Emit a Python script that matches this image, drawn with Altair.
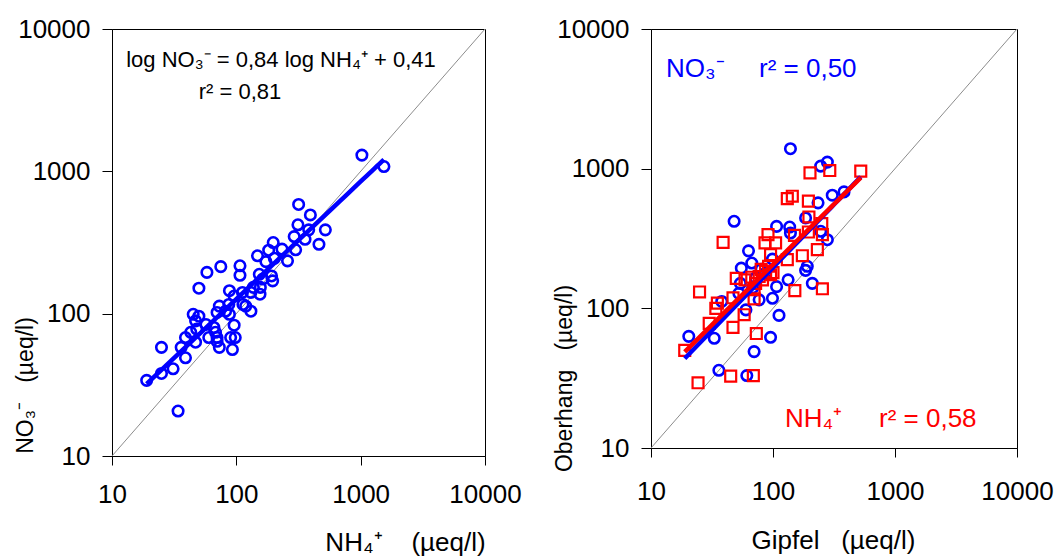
import altair as alt
import pandas as pd

# ---------------- data ----------------
# Left panel: NH4+ (x) vs NO3- (y), µeq/l
nh4 = [1023, 1538, 317, 394, 313, 382, 520, 292, 357, 462, 300, 233, 198, 182, 148,
       173, 202, 258, 153, 192, 196, 163, 156, 155, 131, 112, 131, 119, 107, 107,
       75, 58, 50, 88, 96, 87, 82, 73, 70, 45, 50, 47, 57, 48, 43,
       39, 47, 36, 39, 25, 31, 25, 19, 34, 96, 98, 90, 93, 73, 70,
       68, 66, 60, 70, 88, 113, 137]
no3 = [1300, 1081, 585, 494, 421, 388, 388, 348, 333, 307, 281, 284, 316, 279, 255,
       232, 245, 235, 189, 184, 170, 175, 153, 137, 141, 141, 104, 113, 217, 186,
       214, 195, 151, 145, 133, 116, 104, 113, 102, 99, 96, 89, 84, 78, 74,
       68, 63, 58, 49, 58, 41, 38, 34, 20.7, 83, 68, 68, 56, 58, 64,
       74, 80, 68, 68, 99, 116, 153]

# Right panel: Gipfel (x) vs Oberhang (y), µeq/l
gipfel_no3 = [139, 279, 246, 382, 306, 234, 185, 48, 107, 137, 139, 246, 279, 63, 99,
              67, 55, 191, 185, 133, 210, 107, 99, 77, 54, 112, 60, 38, 33, 20.4,
              95.5, 70, 36, 61, 52.5, 87, 72, 80, 68]
oberhang_no3 = [1390, 1114, 1043, 682, 646, 569, 444, 420, 386, 382, 346, 356, 310, 258, 225,
                211, 194, 200, 187, 160, 151, 143, 118, 115, 151, 89, 97.5, 112, 61, 63,
                62, 49, 36, 33, 128, 179, 165, 190, 140]
gipfel_nh4 = [201, 292, 524, 131, 144, 195, 197, 251, 195, 254, 150, 91, 86, 105, 39,
              95.5, 131, 174, 231, 87, 95.5, 77, 67, 50, 59, 72, 70, 25, 151, 254,
              47, 35, 70, 34, 58, 30, 47, 73, 18.9, 45, 69, 24.3, 80, 92, 100, 82]
oberhang_nh4 = [934, 970, 960, 611, 635, 585, 451, 404, 352, 337, 333, 337, 294, 294, 297,
                242, 223, 238, 263, 184, 174, 169, 167, 164, 160, 151, 136, 131, 134, 138,
                119, 109, 117, 100, 90, 78, 73, 66, 50, 32.7, 33, 29.3, 190, 200, 180, 160]

diag_vals = [10, 10000]
tick_vals = [10, 100, 1000, 10000]

left_eq = ["log NO\u2083\u207b = 0,84 log NH\u2084\u207a + 0,41"]
left_r2 = ["r\u00b2 = 0,81"]
right_no3_name = ["NO\u2083\u207b"]
right_no3_r2 = ["r\u00b2 = 0,50"]
right_nh4_name = ["NH\u2084\u207a"]
right_nh4_r2 = ["r\u00b2 = 0,58"]

BLUE = "#0000ff"
RED = "#ff0000"
FONT = "Liberation Sans, Arial, Helvetica, sans-serif"
NB = "\u00a0"

# ---------------- frames ----------------
df_left = pd.DataFrame({"x": nh4, "y": no3})
df_blue = pd.DataFrame({"x": gipfel_no3, "y": oberhang_no3})
df_red = pd.DataFrame({"x": gipfel_nh4, "y": oberhang_nh4})
df_diag = pd.DataFrame({"x": diag_vals, "y": diag_vals})

r_ext = [min(gipfel_no3 + gipfel_nh4), max(gipfel_no3 + gipfel_nh4)]


def lscale():
    return alt.Scale(type="log", domain=[10, 10000], nice=False)


def encs(xtitle, ytitle, xtitle_x, xtitle_y, ytitle_y, x_lab_pad):
    xenc = alt.X("x:Q", scale=lscale(),
                 axis=alt.Axis(values=tick_vals, format="d", title=xtitle,
                               titleX=xtitle_x, titleY=xtitle_y, titleBaseline="middle",
                               titleFontSize=26,
                               tickSize=9, labelPadding=x_lab_pad))
    yenc = alt.Y("y:Q", scale=lscale(),
                 axis=alt.Axis(values=tick_vals, format="d", title=ytitle,
                               titleX=-87, titleY=ytitle_y, titleBaseline="middle",
                               titleFontSize=23,
                               tickSize=10, labelPadding=12))
    return xenc, yenc


def pts_circle(df):
    return alt.Chart(df).mark_point(shape="circle", filled=False, color=BLUE,
                                    strokeWidth=2.6, size=110, opacity=1).encode(x="x:Q", y="y:Q")


def txt(vals, color, x, y, size, align):
    return alt.Chart(pd.DataFrame({"t": vals})).mark_text(
        font=FONT, fontSize=size, align=align, baseline="middle", color=color).encode(
        x=alt.value(x), y=alt.value(y), text="t:N")


# ---------------- left panel ----------------
xl, yl = encs("NH\u2084\u207a" + NB * 4 + "(\u00b5eq/l)", "NO\u2083\u207b" + NB * 3 + "(\u00b5eq/l)",
              293, 86, 356, 16)
left = alt.layer(
    alt.Chart(df_diag).mark_line(color="#8c8c8c", strokeWidth=1).encode(x=xl, y=yl),
    pts_circle(df_left),
    alt.Chart(df_left).transform_regression("x", "y", method="pow").mark_line(
        color=BLUE, strokeWidth=4.5).encode(x="x:Q", y="y:Q"),
    txt(left_eq, "black", 169, 31, 22, "center"),
    txt(left_r2, "black", 128, 63, 22, "center"),
).properties(width=373, height=427)

# ---------------- right panel ----------------
xr, yr = encs("Gipfel" + NB * 3 + "(\u00b5eq/l)", "Oberhang" + NB * 3 + "(\u00b5eq/l)",
              182, 92, 349, 21)
right = alt.layer(
    alt.Chart(df_diag).mark_line(color="#8c8c8c", strokeWidth=1).encode(x=xr, y=yr),
    pts_circle(df_blue),
    alt.Chart(df_red).mark_point(shape="square", filled=False, color=RED,
                                 strokeWidth=2.2, size=120, opacity=1).encode(x="x:Q", y="y:Q"),
    alt.Chart(df_blue).transform_regression("x", "y", method="pow", extent=r_ext).mark_line(
        color=BLUE, strokeWidth=4.5).encode(x="x:Q", y="y:Q"),
    alt.Chart(df_red).transform_regression("x", "y", method="pow", extent=r_ext).mark_line(
        color=RED, strokeWidth=4.5).encode(x="x:Q", y="y:Q"),
    txt(right_no3_name, BLUE, 15, 40, 26, "left"),
    txt(right_no3_r2, BLUE, 108, 40, 26, "left"),
    txt(right_nh4_name, RED, 134, 390, 26, "left"),
    txt(right_nh4_r2, RED, 228, 390, 26, "left"),
).properties(width=366, height=419)

chart = alt.hconcat(left, right, spacing=30).properties(
    padding={"left": 13, "top": 15, "right": 5, "bottom": 0},
    background="white",
).configure_view(stroke="black", strokeWidth=1).configure_axis(
    grid=False, domainColor="black", tickColor="black", domainWidth=1, tickWidth=1,
    labelFont=FONT, labelFontSize=26, labelColor="black",
    titleFont=FONT, titleFontWeight="normal", titleColor="black",
    labelFlush=False, labelOverlap=False,
)

chart.save("out.html", embed_options={"renderer": "svg", "actions": False})
